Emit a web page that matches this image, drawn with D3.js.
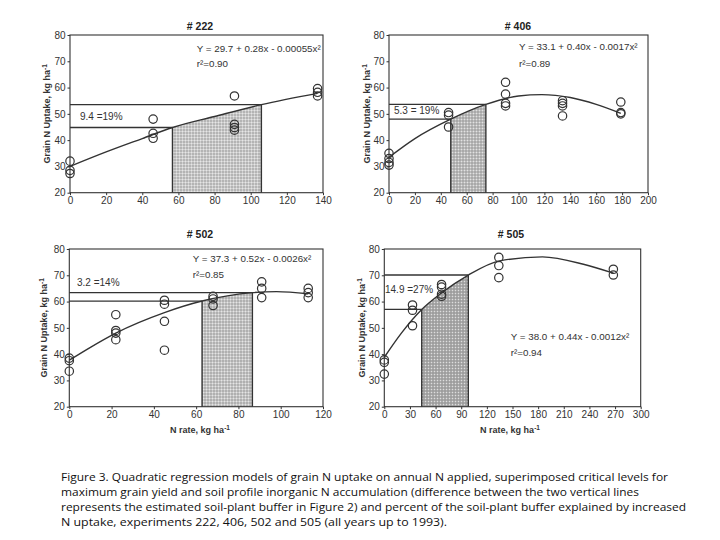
<!DOCTYPE html>
<html><head><meta charset="utf-8">
<script src="https://cdn.jsdelivr.net/npm/d3@7"></script>
<style>body{margin:0;background:#fff}svg{display:block}</style>
</head><body>
<svg id="c" width="720" height="540"></svg>
<script>
// ---------- DATA ----------
// Experiment 222
const n222 = [0,0,0, 46,46,46, 91,91,91,91, 137,137,137];
const u222 = [32,28.5,27.3, 48,42.6,40.7, 56.8,46,44.8,43.8, 59.6,58.2,56.8];
const fitN222 = [0,20,40,56.7,80,105.9,137];
const fitU222 = [30.0,35.5,40.6,44.8,49.0,53.5,57.8];
const crit222 = [56.7,105.9];
const level222 = [44.8,53.5];
const xTicks222 = [0,20,40,60,80,100,120,140];
// Experiment 406
const n406 = [0,0,0,0, 46,46,46, 90,90,90,90, 134,134,134,134, 179,179,179];
const u406 = [35,33,31.5,30.5, 50.5,49.5,45, 62,57.5,54,53, 55,54,53,49.2, 54.5,50.5,50];
const fitN406 = [0,20,47.7,74.8,100,118,140,160,179];
const fitU406 = [33.5,40.6,48.0,53.6,56.8,57.3,56.2,53.6,50.2];
const crit406 = [47.7,74.8];
const level406 = [48.0,53.6];
const xTicks406 = [0,20,40,60,80,100,120,140,160,180,200];
// Experiment 502
const n502 = [0,0,0, 22,22,22,22, 45,45,45,45, 68,68,68, 91,91,91, 113,113,113];
const u502 = [38.5,37.5,33.5, 55,49,48,45.5, 60.5,59,52.5,41.5, 62,61,58.5, 67.5,65,61.5, 65,63.4,61.5];
const fitN502 = [0,10,22,45,62.8,86.6,98,113];
const fitU502 = [37.7,42.6,48.0,55.8,60.2,63.4,63.8,63.0];
const crit502 = [62.8,86.6];
const level502 = [60.2,63.4];
const xTicks502 = [0,20,40,60,80,100,120];
// Experiment 505
const n505 = [0,0,0, 33,33,33, 67,67,67,67, 134,134,134, 268,268];
const u505 = [37.8,36.9,32.4, 58.7,56.7,50.8, 66.5,65.5,62.8,62, 76.8,73.7,69.1, 72.3,70.1];
const fitN505 = [0,20,43.8,67,98.3,135,185,233,268];
const fitU505 = [38.8,48.0,57.0,63.3,70.1,75.5,77.0,74.2,70.8];
const crit505 = [43.8,98.3];
const level505 = [57.0,70.1];
const xTicks505 = [0,30,60,90,120,150,180,210,240,270,300];

const yTicks = [20,30,40,50,60,70,80];
const titles = ["# 222","# 406","# 502","# 505"];
const equations = ["Y = 29.7 + 0.28x - 0.00055x²","Y = 33.1 + 0.40x - 0.0017x²","Y = 37.3 + 0.52x - 0.0026x²","Y = 38.0 + 0.44x - 0.0012x²"];
const rsq = ["r²=0.90","r²=0.89","r²=0.85","r²=0.94"];
const bufferLabels = ["9.4 =19%","5.3 = 19%","3.2 =14%","14.9 =27%"];
const xMax = [140,200,120,300];
const caption = [
 "Figure 3.  Quadratic regression models of grain N uptake on annual N applied, superimposed critical levels for",
 "maximum grain yield and soil profile inorganic N accumulation (difference between the two vertical lines",
 "represents the estimated soil-plant buffer in Figure 2) and percent of the soil-plant buffer explained by increased",
 "N uptake, experiments 222, 406, 502 and 505 (all years up to 1993)."
];

// ---------- LAYOUT ----------
const layout = [
 {L:70,R:323,T:35,B:192.7, tx:200, ty:30, ylx:47, eqx:196.7, eqy:52, r2y:67, blx:80, bly:119.5, fillc:"#d0d0d0", xlab:false},
 {L:389,R:648,T:35,B:192.7, tx:518, ty:30, ylx:367, eqx:519, eqy:50, r2y:67, blx:394, bly:113.5, fillc:"#bebebe", xlab:false},
 {L:69.3,R:323,T:249,B:406.7, tx:200, ty:238, ylx:44, eqx:192.7, eqy:262, r2y:278, blx:77, bly:286, fillc:"#cacaca", xlab:true, xlx:200},
 {L:384.3,R:640.7,T:249,B:406.7, tx:511, ty:238, ylx:362, eqx:510.7, eqy:339.5, r2y:355.5, blx:385, bly:292.5, fillc:"#acacac", xlab:true, xlx:510}
];
const dataSets = [
 {n:n222,u:u222,fn:fitN222,fu:fitU222,crit:crit222,lev:level222,xt:xTicks222},
 {n:n406,u:u406,fn:fitN406,fu:fitU406,crit:crit406,lev:level406,xt:xTicks406},
 {n:n502,u:u502,fn:fitN502,fu:fitU502,crit:crit502,lev:level502,xt:xTicks502},
 {n:n505,u:u505,fn:fitN505,fu:fitU505,crit:crit505,lev:level505,xt:xTicks505}
];

const svg = d3.select("#c");
const FONT = "'Liberation Sans', Arial, sans-serif";
const ink = "#222";
const defs = svg.append("defs");

layout.forEach((g,i)=>{
  const d = dataSets[i];
  const x = d3.scaleLinear().domain([0,xMax[i]]).range([g.L,g.R]);
  const y = d3.scaleLinear().domain([20,80]).range([g.B,g.T]);
  const pts = d.fn.map((v,k)=>[v,d.fu[k]]);

  const pat = defs.append("pattern").attr("id","pat"+i).attr("width",3).attr("height",3).attr("patternUnits","userSpaceOnUse");
  pat.append("rect").attr("width",3).attr("height",3).attr("fill",g.fillc);
  pat.append("circle").attr("cx",1).attr("cy",1).attr("r",0.75).attr("fill","#8a8a8a");
  pat.append("circle").attr("cx",2.5).attr("cy",2.5).attr("r",0.5).attr("fill","#eeeeee");

  defs.append("clipPath").attr("id","clip"+i).append("rect")
    .attr("x",x(d.crit[0])).attr("y",g.T).attr("width",x(d.crit[1])-x(d.crit[0])).attr("height",g.B-g.T);

  const G = svg.append("g");
  G.append("path").datum(pts)
    .attr("d", d3.area().x(p=>x(p[0])).y0(y(20)).y1(p=>y(p[1])).curve(d3.curveMonotoneX))
    .attr("fill","url(#pat"+i+")").attr("clip-path","url(#clip"+i+")");
  d.crit.forEach((c,k)=>{
    G.append("line").attr("x1",x(c)).attr("x2",x(c)).attr("y1",y(20)).attr("y2",y(d.lev[k]))
      .attr("stroke","#333").attr("stroke-width",1.4);
    G.append("line").attr("x1",x(0)).attr("x2",x(c)).attr("y1",y(d.lev[k])).attr("y2",y(d.lev[k]))
      .attr("stroke","#333").attr("stroke-width",1.3);
  });
  G.append("path").datum(pts)
    .attr("d", d3.line().x(p=>x(p[0])).y(p=>y(p[1])).curve(d3.curveMonotoneX))
    .attr("fill","none").attr("stroke","#333").attr("stroke-width",1.4);
  G.selectAll("circle.pt").data(d.n.map((v,k)=>[v,d.u[k]])).enter().append("circle")
    .attr("cx",p=>x(p[0])).attr("cy",p=>y(p[1])).attr("r",4.2)
    .attr("fill","none").attr("stroke","#333").attr("stroke-width",1.2);

  G.append("rect").attr("x",g.L).attr("y",g.T).attr("width",g.R-g.L).attr("height",g.B-g.T)
    .attr("fill","none").attr("stroke","#333").attr("stroke-width",1.1);

  const ax = G.append("g").attr("transform",`translate(0,${g.B})`)
    .call(d3.axisBottom(x).tickValues(d.xt).tickSize(2.5).tickPadding(2).tickFormat(d3.format("d")));
  const ay = G.append("g").attr("transform",`translate(${g.L},0)`)
    .call(d3.axisLeft(y).tickValues(yTicks).tickSize(2.5).tickPadding(2).tickFormat(d3.format("d")));
  [ax,ay].forEach(a=>{
    a.select(".domain").remove();
    a.selectAll("line").attr("stroke","#333");
    a.selectAll("text").attr("font-family",FONT).attr("font-size",10).attr("fill","#333");
  });

  G.append("text").attr("x",g.tx).attr("y",g.ty).attr("text-anchor","middle")
    .attr("font-family",FONT).attr("font-weight","bold").attr("font-size",10.5).attr("fill",ink).text(titles[i]);
  const yl = G.append("text").attr("transform",`translate(${g.ylx},${(g.T+g.B)/2}) rotate(-90)`)
    .attr("text-anchor","middle").attr("dominant-baseline","central")
    .attr("font-family",FONT).attr("font-weight","bold").attr("font-size",9).attr("fill","#333");
  yl.append("tspan").text("Grain N Uptake, kg ha");
  yl.append("tspan").attr("dy",-3).attr("font-size",6.5).text("-1");
  if (g.xlab){
    const xl = G.append("text").attr("x",g.xlx).attr("y",433).attr("text-anchor","middle")
      .attr("font-family",FONT).attr("font-weight","bold").attr("font-size",9).attr("fill","#333");
    xl.append("tspan").text("N rate, kg ha");
    xl.append("tspan").attr("dy",-3).attr("font-size",6.5).text("-1");
  }
  G.append("text").attr("x",g.eqx).attr("y",g.eqy).attr("font-family",FONT).attr("font-size",9.8)
    .attr("fill","#333").text(equations[i]);
  G.append("text").attr("x",g.eqx).attr("y",g.r2y).attr("font-family",FONT).attr("font-size",9.8)
    .attr("fill","#333").text(rsq[i]);
  G.append("text").attr("x",g.blx).attr("y",g.bly).attr("font-family",FONT).attr("font-size",10)
    .attr("fill","#333").text(bufferLabels[i]);
});

const capEnds = [668,639,686,447];
caption.forEach((line,k)=>{
  svg.append("text").attr("x",61).attr("y",481+k*15)
    .attr("font-family","'Open Sans', 'DejaVu Sans', sans-serif").attr("font-size",11).attr("fill","#111")
    .attr("textLength",capEnds[k]-61).attr("lengthAdjust","spacingAndGlyphs").text(line);
});
</script>
</body></html>
